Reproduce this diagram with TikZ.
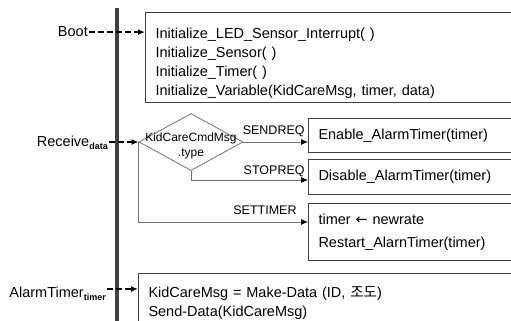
\documentclass[tikz,border=0pt]{standalone}
\usepackage{fontspec}
\setmainfont{Liberation Sans}
\newfontfamily\krfont{Noto Sans CJK KR}
\newfontfamily\symfont{DejaVu Sans}
\usetikzlibrary{arrows.meta,shapes.geometric,positioning,calc}
\newcommand*{\lowsub}[1]{\raisebox{-3pt}{\fontsize{9}{9}\selectfont\bfseries #1}}

\begin{document}
\begin{tikzpicture}[x=1pt, y=-1pt, >={Latex[length=7pt,width=6pt]}, font=\fontsize{14.5}{19}\selectfont]
    \tikzstyle{box}=[draw=black!75, line width=1pt, anchor=north west, text width=400pt, align=left, inner xsep=10pt, inner ysep=0pt]
    \tikzstyle{decision}=[diamond, draw=black!55, line width=0.8pt, minimum width=104pt, minimum height=57pt, inner sep=0pt]
    \tikzstyle{event}=[inner sep=1pt, anchor=base east]
    \tikzstyle{trigger}=[->, line width=1.8pt, dash pattern=on 6pt off 3pt]
    \tikzstyle{branch}=[-{Latex[length=7pt,width=6pt,color=black]}, draw=black!55, line width=0.8pt]
    \tikzstyle{case}=[font=\fontsize{12.5}{12.5}\selectfont, inner sep=0pt, anchor=base east, pos=1]
    \clip (0,0) rectangle (511,321);
    \fill[white] (0,0) rectangle (511,321);
    % time line
    \coordinate (top) at (117,8);
    \coordinate (bottom) at (117,330);
    \draw[line width=4pt, black!75] (top) -- (bottom);
    % events
    \node[event]    (boot)  at (89,37)      {Boot};
    \node[event]    (recv)  at (109,146)    {Receive\lowsub{data}};
    \node[event]    (tick)  at (107,297)    {AlarmTimer\lowsub{timer}};
    \coordinate     (tickout) at ($(tick.base east)+(0,-8)$);
    % actions
    \node[box, minimum height=90pt]     (init)    at (145,12)   {\rule{0pt}{22pt}Initialize\_LED\_Sensor\_Interrupt( )\\Initialize\_Sensor( )\\Initialize\_Timer( )\\Initialize\_Variable(KidCareMsg, timer, data)};
    \node[decision]                     (type)    at (191,142)  {};
    \node[inner sep=0pt, align=center, font=\fontsize{12}{15}\selectfont]
                                        (typetxt) at ([yshift=-4pt]type.center) {KidCareCmdMsg\\.type};
    \node[box, minimum height=34pt]     (enable)  at (308,118)  {Enable\_AlarmTimer(timer)};
    \node[box, minimum height=35pt]     (disable) at (308,159)  {Disable\_AlarmTimer(timer)};
    \node[box, minimum height=57pt, font=\fontsize{14.5}{23}\selectfont]
                                        (reset)   at (308,203)  {timer {\symfont ←} newrate\\Restart\_AlarnTimer(timer)};
    \node[box, minimum height=60pt]     (send)    at (138,273)  {KidCareMsg = Make-Data (ID, {\krfont 조도})\\Send-Data(KidCareMsg)};
    % connectors
    \draw[trigger] (boot.east) -- (boot.east -| init.west);
    \draw[trigger] (recv.east |- type.west) -- (type.west);
    \draw[trigger] (tickout) -- (tickout -| send.west);
    \draw[branch] (type.east) -- node[case, xshift=-3pt, yshift=8pt] {SENDREQ} (type.east -| enable.west);
    \draw[branch] (type.south) |- node[case, xshift=-3pt, yshift=6pt] {STOPREQ} ([yshift=-3pt]disable.west);
    \draw[branch] (type.west) |- node[case, xshift=-11pt, yshift=8pt] {SETTIMER} ([yshift=10pt]reset.west);
\end{tikzpicture}
\end{document}
